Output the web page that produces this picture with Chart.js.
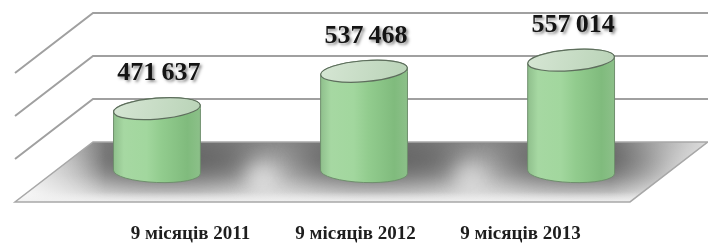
<!DOCTYPE html>
<html>
<head>
<meta charset="utf-8">
<script src="https://cdn.jsdelivr.net/npm/chart.js@4.4.1/dist/chart.umd.min.js"></script>
<style>
  html, body { margin: 0; padding: 0; background: #fff; }
  #wrap { width: 708px; height: 244px; }
</style>
</head>
<body>
<div id="wrap"><canvas id="chart" width="708" height="244"></canvas></div>
<script>
// chart data
const categories = ['9 місяців 2011', '9 місяців 2012', '9 місяців 2013'];
const values = [471637, 537468, 557014];
const wallTicks = [300000, 400000, 500000, 600000];

// perspective knobs for the fake 3D look
const depth = { dx: -78, dy: 60 };
const wallLeft = 93;
const spread = 1.255;
const shiftX = 8.5;
const serif = '"Liberation Serif", "Times New Roman", serif';

function fmt(v) {
    return String(v).replace(/\B(?=(\d{3})+(?!\d))/g, '\u2009');
}

function cylX(chart, x) {
    const a = chart.chartArea;
    const mid = (a.left + a.right) / 2;
    return mid + shiftX + (x - mid) * spread;
}

// soft blob: the shape is drawn off canvas, only its blurred shadow lands here
function blob(ctx, x, y, rx, ry, color, blur) {
    ctx.save();
    ctx.shadowColor = color;
    ctx.shadowBlur = blur;
    ctx.shadowOffsetX = 2000;
    ctx.fillStyle = '#000';
    ctx.beginPath();
    ctx.ellipse(x - 2000, y, rx, ry, 0, 0, Math.PI * 2);
    ctx.fill();
    ctx.restore();
}

// back wall, floor and shadows
const scenePlugin = {
    id: 'scene',
    beforeDatasetsDraw(chart) {
        const ctx = chart.ctx;
        const wall = chart.scales.yWall;
        const yScale = chart.scales.y;
        const W = chart.width;
        const meta = chart.getDatasetMeta(0);
        const base = yScale.getPixelForValue(yScale.min);

        ctx.save();
        // grid lines on the wall
        ctx.strokeStyle = '#a0a0a0';
        ctx.lineWidth = 2;
        wallTicks.slice(1).forEach(v => {
            const p = wall.getPixelForValue(v);
            ctx.beginPath();
            ctx.moveTo(wallLeft + depth.dx, p + depth.dy);
            ctx.lineTo(wallLeft, p);
            ctx.lineTo(W, p);
            ctx.stroke();
        });

        // floor
        const fy = wall.getPixelForValue(wallTicks[0]);
        const floorPath = () => {
            ctx.beginPath();
            ctx.moveTo(wallLeft, fy);
            ctx.lineTo(W, fy);
            ctx.lineTo(W + depth.dx, fy + depth.dy);
            ctx.lineTo(wallLeft + depth.dx, fy + depth.dy);
            ctx.closePath();
        };
        floorPath();
        const g = ctx.createLinearGradient(0, fy, 0, fy + depth.dy);
        g.addColorStop(0, '#8a8a8a');
        g.addColorStop(0.55, '#b4b4b4');
        g.addColorStop(1, '#e6e6e6');
        ctx.fillStyle = g;
        ctx.fill();
        ctx.save();
        ctx.clip();
        meta.data.forEach(bar => {
            const cx = cylX(chart, bar.x);
            blob(ctx, cx + 14, base - 10, 86, 22, 'rgba(50,50,50,0.6)', 30);
        });
        // light patches between the cylinders and at the corners
        blob(ctx, 262, base + 6, 16, 16, 'rgba(235,235,235,0.7)', 18);
        blob(ctx, 470, base + 6, 16, 16, 'rgba(235,235,235,0.6)', 18);
        const side = ctx.createLinearGradient(wallLeft + depth.dx, 0, W, 0);
        side.addColorStop(0, 'rgba(255,255,255,0.9)');
        side.addColorStop(0.13, 'rgba(255,255,255,0.0)');
        side.addColorStop(0.86, 'rgba(255,255,255,0.0)');
        side.addColorStop(1, 'rgba(255,255,255,0.7)');
        ctx.fillStyle = side;
        ctx.fillRect(0, fy, W, depth.dy);
        const front = ctx.createLinearGradient(0, fy + depth.dy - 10, 0, fy + depth.dy);
        front.addColorStop(0, 'rgba(240,240,240,0)');
        front.addColorStop(1, 'rgba(240,240,240,0.9)');
        ctx.fillStyle = front;
        ctx.fillRect(0, fy + depth.dy - 10, W, 10);
        ctx.restore();
        ctx.strokeStyle = '#a8a8a8';
        ctx.lineWidth = 1.5;
        floorPath();
        ctx.stroke();
        ctx.restore();
    },
    afterDatasetsDraw(chart) {
        const ctx = chart.ctx;
        const meta = chart.getDatasetMeta(0);
        const xScale = chart.scales.x;
        const yScale = chart.scales.y;
        const base = yScale.getPixelForValue(yScale.min);

        meta.data.forEach((bar, i) => {
            const cx = cylX(chart, bar.x);
            const rx = bar.width * spread / 2;
            const ry = 10.5;
            const top = bar.y;

            ctx.save();
            // body
            const body = ctx.createLinearGradient(cx - rx, 0, cx + rx, 0);
            body.addColorStop(0, '#8fbf8c');
            body.addColorStop(0.12, '#a6d8a2');
            body.addColorStop(0.38, '#a2d79e');
            body.addColorStop(0.55, '#92cc8e');
            body.addColorStop(0.85, '#80bb7d');
            body.addColorStop(1, '#8cc089');
            ctx.beginPath();
            ctx.moveTo(cx + rx, top);
            ctx.ellipse(cx, base, rx, ry, 0.04, 0, Math.PI);
            ctx.ellipse(cx, top, rx, ry, -0.08, Math.PI, Math.PI * 2);
            ctx.closePath();
            ctx.fillStyle = body;
            ctx.fill();
            ctx.strokeStyle = '#6f8f6d';
            ctx.lineWidth = 1;
            ctx.stroke();

            // lid
            const lid = ctx.createLinearGradient(cx - rx, top - ry, cx + rx, top + ry);
            lid.addColorStop(0, '#d6e6d4');
            lid.addColorStop(1, '#b9d3b7');
            ctx.beginPath();
            ctx.ellipse(cx, top, rx, ry, -0.08, 0, Math.PI * 2);
            ctx.fillStyle = lid;
            ctx.fill();
            ctx.strokeStyle = '#5e6e5d';
            ctx.lineWidth = 1.2;
            ctx.stroke();

            // value label
            ctx.font = 'bold 26px ' + serif;
            ctx.textAlign = 'center';
            ctx.textBaseline = 'middle';
            ctx.shadowColor = 'rgba(0,0,0,0.45)';
            ctx.shadowOffsetX = 2;
            ctx.shadowOffsetY = 2;
            ctx.shadowBlur = 3;
            ctx.fillStyle = '#141414';
            ctx.fillText(fmt(values[i]), cx + 2, top - 35);
            ctx.restore();
        });

        // category labels under the floor
        ctx.save();
        ctx.font = 'bold 19px ' + serif;
        ctx.textAlign = 'center';
        ctx.textBaseline = 'middle';
        ctx.fillStyle = '#1e1e1e';
        categories.forEach((c, i) => {
            ctx.fillText(c, xScale.getPixelForValue(i), base + 62);
        });
        ctx.restore();
    }
};

new Chart(document.getElementById('chart'), {
    type: 'bar',
    data: {
        labels: categories,
        datasets: [{
            data: values,
            backgroundColor: 'rgba(0,0,0,0)',
            borderWidth: 0,
            categoryPercentage: 1,
            barPercentage: 0.42
        }]
    },
    options: {
        responsive: false,
        animation: false,
        devicePixelRatio: 1,
        layout: { padding: { left: 108, right: 105, top: 13, bottom: 72 } },
        scales: {
            x: { display: false },
            y: { display: false, min: 360000, max: 640000 },
            yWall: { display: false, min: 230000, max: 600000 }
        },
        plugins: {
            legend: { display: false },
            tooltip: { enabled: false }
        }
    },
    plugins: [scenePlugin]
});
</script>
</body>
</html>
